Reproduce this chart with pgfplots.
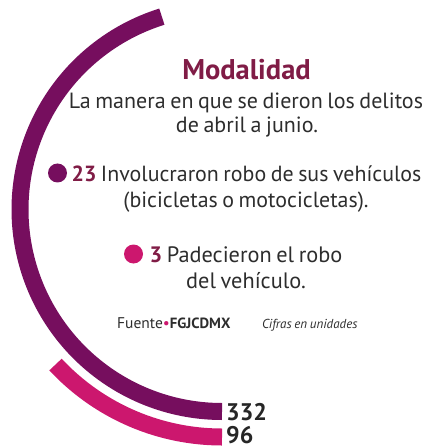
\documentclass[border=0pt]{standalone}
\usepackage{pgfplots}
\usepackage{pgfplotstable}
\pgfplotsset{compat=1.18}
\usepackage{fontspec}
\setmainfont[WordSpace=0.78]{PT Sans}
\definecolor{purp}{RGB}{118,14,94}
\definecolor{pinkc}{RGB}{204,23,110}
\definecolor{maroon}{RGB}{128,28,70}
\definecolor{txt}{RGB}{45,45,45}
\pgfplotstableread{
name value radius
vehiculos 332 202
robo 96 227.5
}\datatbl
\begin{document}
\begin{tikzpicture}
\pgfplotstablegetelem{0}{value}\of\datatbl \let\va\pgfplotsretval
\pgfplotstablegetelem{0}{radius}\of\datatbl \let\ra\pgfplotsretval
\pgfplotstablegetelem{1}{value}\of\datatbl \let\vb\pgfplotsretval
\pgfplotstablegetelem{1}{radius}\of\datatbl \let\rb\pgfplotsretval
\begin{axis}[
  scale only axis, width=426pt, height=446pt,
  xmin=0, xmax=426, ymin=0, ymax=446, y dir=reverse,
  hide axis, clip=false,
]
% arcs: 0.49 degrees per unit, starting at the bottom
\addplot[purp, line width=17pt, domain=0:\va, samples=120, smooth]
  ({222 + \ra*cos(270 - 0.49*x)}, {209.5 - \ra*sin(270 - 0.49*x)});
\addplot[pinkc, line width=17pt, domain=0:\vb, samples=60, smooth]
  ({222 + \rb*cos(270 - 0.49*x)}, {209.5 - \rb*sin(270 - 0.49*x)});

\node[anchor=base, text=maroon, font=\fontsize{28.5}{30}\selectfont\bfseries] at (axis cs:246.5,80) {Modalidad};
\node[anchor=base, text=txt, font=\fontsize{22}{25}\selectfont] at (axis cs:246,109) {La manera en que se dieron los delitos};
\node[anchor=base, text=txt, font=\fontsize{22}{25}\selectfont] at (axis cs:247,133) {de abril a junio.};

\node[circle, fill=purp, minimum size=19pt, inner sep=0pt] at (axis cs:57.5,173) {};
\node[anchor=base, text=txt, font=\fontsize{21.9}{26}\selectfont] at (axis cs:246.5,182) {\textcolor{maroon}{\bfseries 23} Involucraron robo de sus vehículos};
\node[anchor=base, text=txt, font=\fontsize{21.9}{26}\selectfont] at (axis cs:246,207) {(bicicletas o motocicletas).};

\node[circle, fill=pinkc, minimum size=19pt, inner sep=0pt] at (axis cs:133.5,254) {};
\node[anchor=base, text=txt, font=\fontsize{22.3}{26}\selectfont] at (axis cs:246,262) {\textcolor{maroon}{\bfseries 3} Padecieron el robo};
\node[anchor=base, text=txt, font=\fontsize{22.3}{26}\selectfont] at (axis cs:246,288) {del vehículo.};

\node[anchor=base west, inner sep=0pt, text=txt, font=\fontsize{15.5}{17}\selectfont] at (axis cs:117,328) {Fuente\textcolor{pinkc}{•}{\fontsize{14.8}{17}\selectfont\textbf{FGJCDMX}}};
\node[anchor=base west, inner sep=0pt, text=txt, font=\fontsize{13}{15}\selectfont\itshape] at (axis cs:262,328) {Cifras en unidades};

\node[anchor=base west, inner sep=0pt, text=black!85, font=\fontsize{24}{26}\selectfont\bfseries] at (axis cs:226,420) {332};
\node[anchor=base west, inner sep=0pt, text=black!85, font=\fontsize{24}{26}\selectfont\bfseries] at (axis cs:226,443) {96};
\end{axis}
\pgfresetboundingbox
\path (current axis.south west) rectangle (current axis.north east);
\end{tikzpicture}
\end{document}
